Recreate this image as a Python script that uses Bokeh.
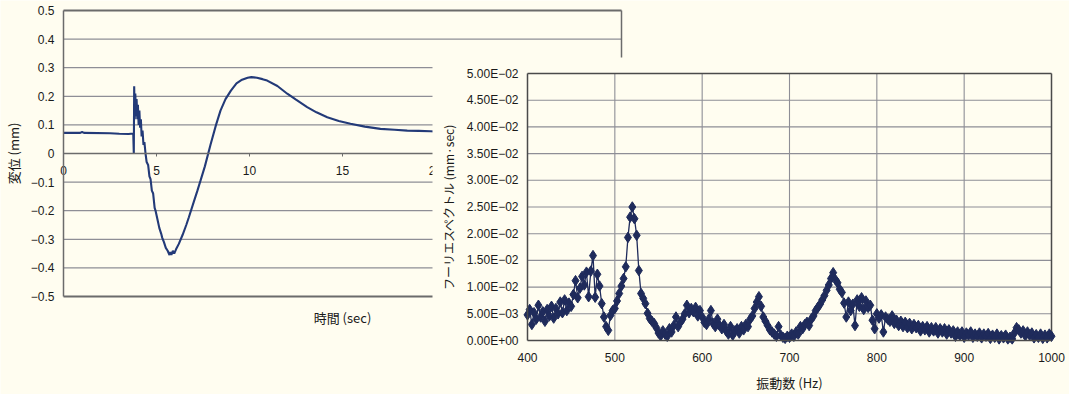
from bokeh.plotting import figure
from bokeh.models import Range1d, LinearAxis, FixedTicker, BoxAnnotation
from bokeh.embed import file_html
from bokeh.resources import INLINE

# ---- displacement record (time in s, displacement in mm) ----
time_s = [0.0, 0.9, 1.0, 1.1, 2.5, 3.0, 3.5, 3.75, 3.78, 3.80, 3.83, 3.86, 3.90,
          3.93, 3.97, 4.00, 4.04, 4.08, 4.12, 4.16, 4.20, 4.25, 4.30, 4.35, 4.41,
          4.47, 4.55, 4.62, 4.68, 4.75, 4.82, 4.90, 4.95, 5.05, 5.15, 5.25, 5.31,
          5.40, 5.50, 5.60, 5.70, 5.75, 5.80, 5.88, 5.95, 6.05, 6.2, 6.4, 6.6,
          6.74, 7.0, 7.2, 7.37, 7.6, 7.9, 8.2, 8.44, 8.71, 9.0, 9.3, 9.6, 9.9,
          10.1, 10.4, 10.7, 10.95, 11.5, 12.03, 12.5, 13.1, 13.6, 14.18, 14.8,
          15.43, 16.2, 17.04, 17.8, 18.48, 19.1, 19.73, 20.0]
disp_mm = [0.072, 0.072, 0.075, 0.072, 0.071, 0.069, 0.068, 0.070, 0.0, 0.235,
           0.12, 0.21, 0.13, 0.19, 0.12, 0.17, 0.10, 0.15, 0.09, 0.12, 0.06, 0.08,
           0.03, 0.04, 0.0, -0.03, -0.04, -0.08, -0.09, -0.13, -0.14, -0.19, -0.20,
           -0.23, -0.26, -0.28, -0.295, -0.31, -0.33, -0.34, -0.355, -0.345,
           -0.355, -0.34, -0.35, -0.335, -0.316, -0.285, -0.25, -0.223, -0.17,
           -0.13, -0.094, -0.045, 0.03, 0.10, 0.15, 0.19, 0.22, 0.245, 0.258,
           0.265, 0.267, 0.265, 0.26, 0.255, 0.236, 0.209, 0.188, 0.162, 0.144,
           0.127, 0.114, 0.104, 0.094, 0.086, 0.083, 0.080, 0.079, 0.078, 0.077]

disp_ticks = [-0.5, -0.4, -0.3, -0.2, -0.1, 0, 0.1, 0.2, 0.3, 0.4, 0.5]
disp_labels = ["\u22120.5", "\u22120.4", "\u22120.3", "\u22120.2", "\u22120.1", "0",
               "0.1", "0.2", "0.3", "0.4", "0.5"]
time_ticks = [0, 5, 10, 15, 20, 25, 30]
time_labels = ["0", "5", "10", "15", "20", "25", "30"]

# ---- Fourier amplitude (1e-3 mm*sec), 2.5 Hz bins starting at 400 Hz ----
spec_milli = [
    4.8, 5.8, 3.0, 5.2,    4.0, 6.6, 4.4, 5.4,    3.6, 5.8, 4.6, 6.4,
    4.2, 6.0, 5.0, 7.2,    5.2, 7.6, 5.6, 7.0,    6.4, 8.6, 11.2, 8.0,
    9.8, 12.0, 10.4, 12.8, 8.2, 13.0, 15.9, 8.1,  12.4, 10.2, 6.9, 4.4,
    2.6, 1.9, 4.7, 5.6,    6.0, 7.4, 8.8, 10.2,   11.6, 13.8, 19.3, 23.1,
    25.0, 22.8, 19.7, 13.1, 8.8, 7.9, 6.9, 5.1,   4.1, 3.6, 3.2, 2.4,
    1.4, 0.9, 1.8, 1.2,    0.8, 2.2, 1.6, 2.8,    4.4, 2.6, 3.4, 4.0,
    5.0, 6.6, 5.2, 6.0,    5.4, 6.2, 4.6, 5.6,    4.4, 3.4, 3.0, 4.0,
    5.6, 3.2, 2.6, 4.0,    2.8, 2.2, 3.0, 1.8,    1.2, 2.6, 1.0, 1.8,
    2.2, 1.4, 2.6, 2.0,    3.0, 2.6, 4.0, 4.6,    6.0, 7.2, 8.2, 6.4,
    4.4, 3.6, 2.8, 2.0,    1.6, 1.2, 0.8, 2.6,    1.0, 0.6, 0.4, 0.8,
    0.6, 1.2, 0.8, 1.6,    1.2, 2.6, 2.2, 3.0,    3.4, 2.8, 4.0, 4.6,
    5.6, 6.2, 6.8, 7.6,    8.4, 9.4, 10.4, 11.6,  12.7, 11.4, 10.8, 9.6,
    9.0, 7.0, 4.4, 7.2,    5.6, 6.8, 2.8, 7.6,    6.4, 8.0, 5.8, 7.4,
    6.2, 6.6, 3.8, 2.2,    5.0, 4.2, 4.8, 1.6,    4.4, 4.0, 3.6, 4.6,
    3.2, 3.8, 2.8, 3.6,    2.6, 3.4, 2.4, 3.2,    2.2, 3.0, 2.4, 2.8,
    1.8, 2.6, 2.0, 2.6,    1.6, 2.4, 1.8, 2.4,    1.4, 2.2, 1.6, 2.2,
    1.2, 2.0, 1.4, 1.8,    0.8, 1.6, 1.0, 1.6,    0.6, 1.4, 1.0, 1.6,
    0.6, 1.2, 0.8, 1.4,    0.5, 1.2, 0.8, 1.3,    0.4, 1.0, 0.6, 1.2,
    0.3, 0.9, 0.5, 1.0,    0.3, 0.6, 0.3, 1.4,    2.4, 2.0, 1.4, 1.8,
    0.9, 1.6, 1.0, 1.4,    0.5, 1.1, 0.6, 1.2,    0.4, 1.0, 0.5, 1.2,
    0.8,
]
freq_hz = [400 + 2.5 * i for i in range(len(spec_milli))]
spec = [v * 1e-3 for v in spec_milli]

spec_ticks = [0, 0.005, 0.01, 0.015, 0.02, 0.025, 0.03, 0.035, 0.04, 0.045, 0.05]
spec_labels = ["0.00E+00", "5.00E\u221203", "1.00E\u221202", "1.50E\u221202",
               "2.00E\u221202", "2.50E\u221202", "3.00E\u221202", "3.50E\u221202",
               "4.00E\u221202", "4.50E\u221202", "5.00E\u221202"]
freq_ticks = [400, 500, 600, 700, 800, 900, 1000]
freq_labels = ["400", "500", "600", "700", "800", "900", "1000"]

# ---- page layout ----
W, H = 1069, 394
BG = "#fffdf0"
NAVY = "#233a78"
DOT = "#1f2b5b"
GRID = "#8e8e96"
EDGE = "#4a4a4a"
NUM_FONT = "Liberation Sans"
JP_FONT = "Noto Sans CJK JP"


def page_range(px_lo, px_hi, val_lo, val_hi, total, flip=False):
    """Range spanning the whole page so that val_lo/val_hi land on px_lo/px_hi."""
    per = (val_hi - val_lo) / (px_hi - px_lo)
    if not flip:
        return Range1d(val_lo - px_lo * per, val_lo + (total - px_lo) * per)
    # vertical: pixels grow downward, px_lo is the top edge (val_hi)
    return Range1d(val_lo - (total - px_hi) * per, val_hi + px_lo * per)


p = figure(width=W, height=H, output_backend="svg", toolbar_location=None,
           x_range=page_range(63, 621, 0, 30, W),
           y_range=page_range(10, 296, -0.5, 0.5, H, flip=True),
           x_axis_type=None, y_axis_type=None, min_border=0)
p.extra_x_ranges = {"fx": page_range(527, 1051, 400, 1000, W)}
p.extra_y_ranges = {"fy": page_range(73, 340, 0, 0.05, H, flip=True)}
p.background_fill_color = BG
p.border_fill_color = BG
p.outline_line_color = None


def style_axis(ax, size="12px"):
    ax.major_label_text_font = NUM_FONT
    ax.major_label_text_font_size = size
    ax.major_label_text_color = "#1a1a1a"
    ax.axis_label_text_font = JP_FONT
    ax.axis_label_text_font_style = "normal"
    ax.axis_label_text_color = "#1a1a1a"
    ax.minor_tick_line_color = None
    ax.major_tick_in = 0


# ---- displacement chart ----
t_lo, t_hi = time_ticks[0], time_ticks[-1]
inner = [d for d in disp_ticks if d not in (0, disp_ticks[0], disp_ticks[-1])]
p.segment(x0=[t_lo] * len(inner), x1=[t_hi] * len(inner), y0=inner, y1=inner,
          line_color=GRID, line_width=1.2)
p.segment(x0=[t_lo, t_lo], x1=[t_hi, t_hi], y0=[disp_ticks[-1], disp_ticks[0]],
          y1=[disp_ticks[-1], disp_ticks[0]], line_color="#6b6b6b", line_width=2)
p.segment(x0=[t_hi], x1=[t_hi], y0=[disp_ticks[0]], y1=[disp_ticks[-1]],
          line_color="#6b6b6b", line_width=1.5)
p.line(time_s, disp_mm, line_color=NAVY, line_width=2.1)

ly = LinearAxis(fixed_location=0, bounds=(disp_ticks[0], disp_ticks[-1]),
                ticker=FixedTicker(ticks=disp_ticks),
                major_label_overrides=dict(zip(disp_ticks, disp_labels)),
                axis_label="変位 (mm)")
style_axis(ly)
ly.axis_line_color = "#6b6b6b"
ly.axis_line_width = 1.5
ly.major_tick_out = 0
ly.major_label_standoff = 9
ly.axis_label_standoff = 5
ly.axis_label_text_font_size = "13px"
p.add_layout(ly, "left")

lx = LinearAxis(fixed_location=0, bounds=(t_lo, t_hi),
                ticker=FixedTicker(ticks=time_ticks),
                major_label_overrides=dict(zip(time_ticks, time_labels)),
                axis_label="時間 (sec)")
style_axis(lx)
lx.axis_line_color = "#6b6b6b"
lx.axis_line_width = 1.5
lx.major_tick_out = 3
lx.major_tick_line_color = "#6b6b6b"
lx.major_label_standoff = 9
lx.axis_label_standoff = 130
lx.axis_label_text_font_size = "13px"
p.add_layout(lx, "below")

# sheet of the spectrum chart laid over the displacement chart
p.add_layout(BoxAnnotation(left=432, top=57, left_units="canvas", top_units="canvas",
                           fill_color=BG, fill_alpha=1.0, line_color=None,
                           level="annotation"))

# ---- spectrum chart ----
f_lo, f_hi = freq_ticks[0], freq_ticks[-1]
a_lo, a_hi = spec_ticks[0], spec_ticks[-1]
hg = spec_ticks[1:-1]
vg = freq_ticks[1:-1]
kw = dict(x_range_name="fx", y_range_name="fy", level="overlay")
p.segment(x0=[f_lo] * len(hg), x1=[f_hi] * len(hg), y0=hg, y1=hg,
          line_color=GRID, line_width=1.1, **kw)
p.segment(x0=vg, x1=vg, y0=[a_lo] * len(vg), y1=[a_hi] * len(vg),
          line_color=GRID, line_width=1.1, **kw)
p.segment(x0=[f_lo, f_hi], x1=[f_hi, f_hi], y0=[a_hi, a_lo], y1=[a_hi, a_hi],
          line_color=EDGE, line_width=1.5, **kw)
p.line(freq_hz, spec, line_color=DOT, line_width=1.3, **kw)
p.scatter(freq_hz, spec, marker="diamond", size=10.5, fill_color=DOT,
          line_color=DOT, **kw)

ry = LinearAxis(x_range_name="fx", y_range_name="fy", fixed_location=f_lo,
                bounds=(a_lo, a_hi), ticker=FixedTicker(ticks=spec_ticks),
                major_label_overrides=dict(zip(spec_ticks, spec_labels)),
                axis_label="フーリエスペクトル (mm·sec)", level="overlay")
style_axis(ry)
ry.axis_line_color = EDGE
ry.axis_line_width = 1.5
ry.major_tick_out = 0
ry.major_label_standoff = 9
ry.axis_label_standoff = 7
ry.axis_label_text_font_size = "12px"
p.add_layout(ry, "left")

rx = LinearAxis(x_range_name="fx", y_range_name="fy", fixed_location=a_lo,
                bounds=(f_lo, f_hi), ticker=FixedTicker(ticks=freq_ticks),
                major_label_overrides=dict(zip(freq_ticks, freq_labels)),
                axis_label="振動数 (Hz)", level="overlay")
style_axis(rx)
rx.axis_line_color = EDGE
rx.axis_line_width = 1.5
rx.major_tick_out = 0
rx.major_label_standoff = 12
rx.axis_label_standoff = 8
rx.axis_label_text_font_size = "13px"
p.add_layout(rx, "below")

open("out.html", "w").write(file_html(p, INLINE))
